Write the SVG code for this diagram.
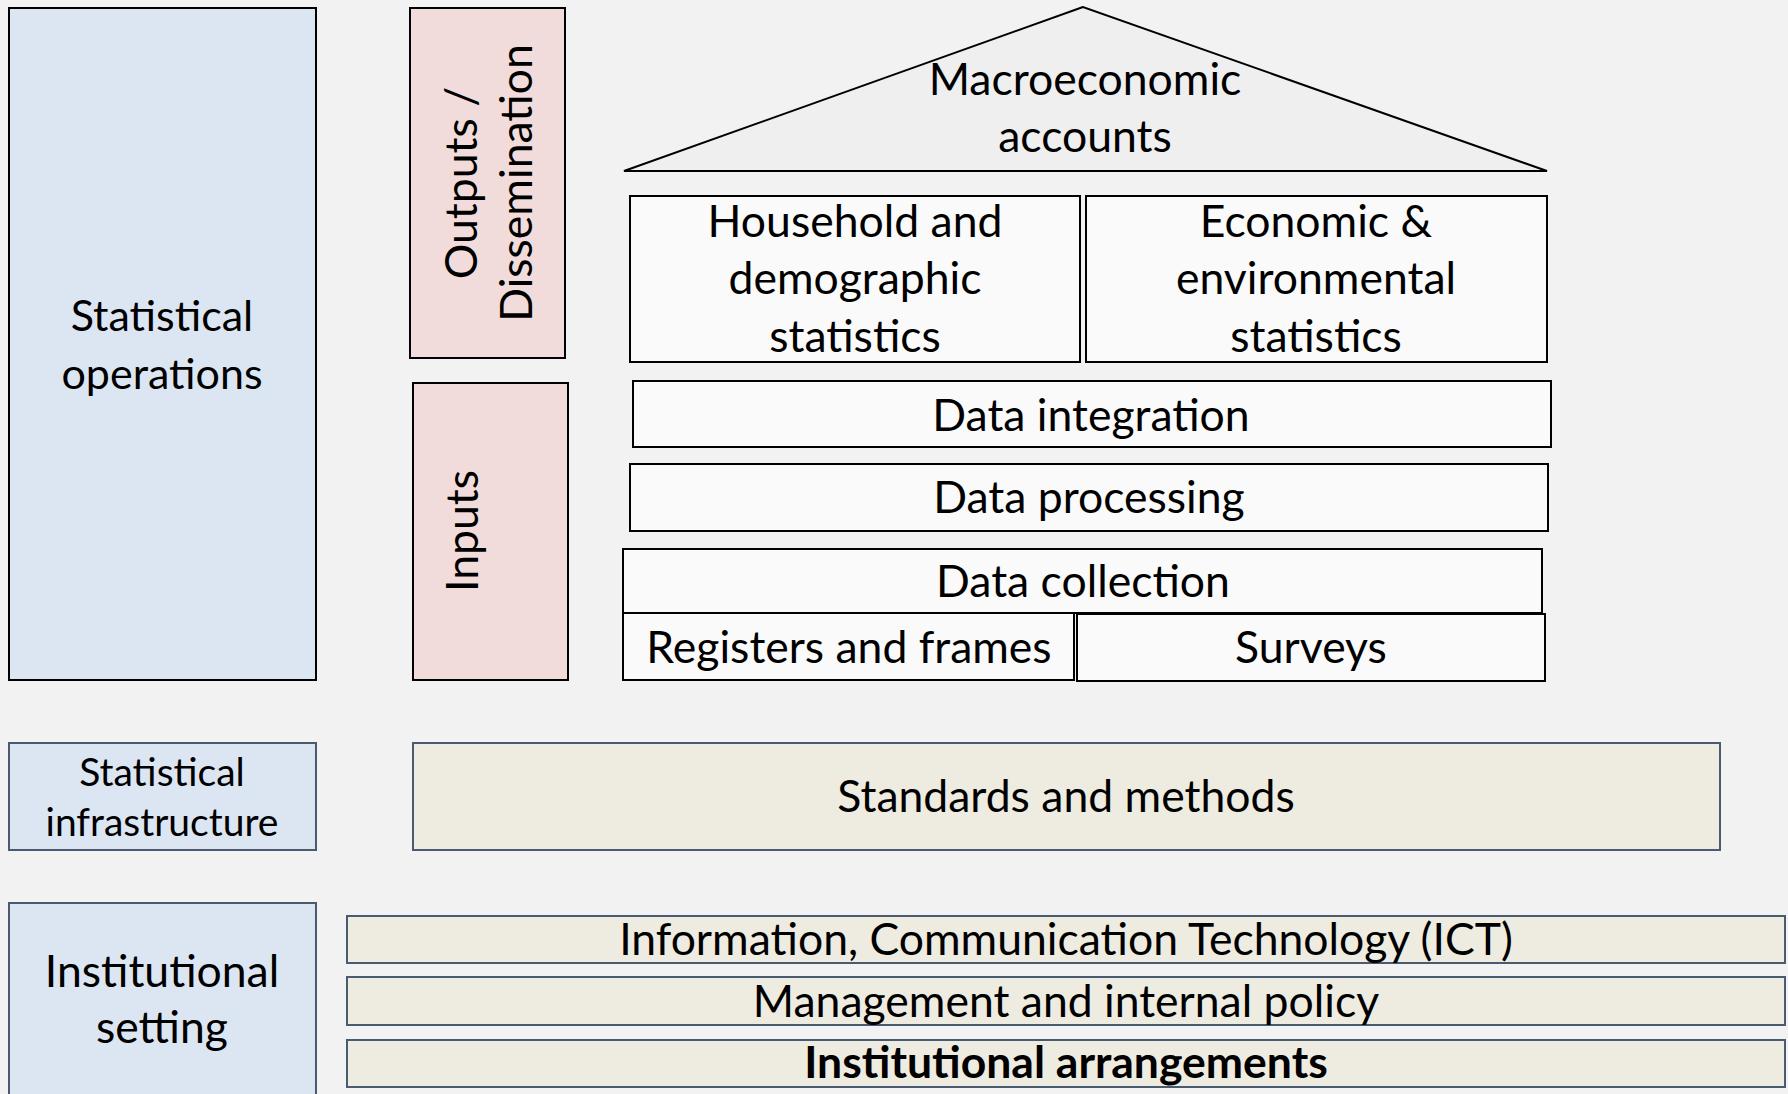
<svg xmlns="http://www.w3.org/2000/svg" width="1788" height="1094" viewBox="0 0 1788 1094">
<style>
text{font-family:Lato,"Open Sans","Liberation Sans",sans-serif;fill:#000;text-anchor:middle}
.t{font-size:44.5px}
.ops{font-size:43px}
.inf{font-size:39px}
.blue{fill:#dce6f2;stroke:#000;stroke-width:2}
.blue2{fill:#dce6f2;stroke:#4a5a70;stroke-width:2}
.pink{fill:#f2dcdb;stroke:#000;stroke-width:2}
.white{fill:#fafafa;stroke:#000;stroke-width:2}
.tan{fill:#eeebe0;stroke:#4a5a70;stroke-width:2}
</style>
<rect width="1788" height="1094" fill="#f2f2f2"/>
<g id="stat-operations"><rect class="blue" x="9" y="8" width="307" height="672"/><text class="ops" x="162" y="331">Statistical</text><text class="ops" x="162" y="389">operations</text></g>
<g id="outputs"><rect class="pink" x="410" y="8" width="155" height="350"/><text class="t" transform="translate(477,183) rotate(-90)">Outputs /</text><text class="t" transform="translate(532,183) rotate(-90)">Dissemination</text></g>
<g id="inputs"><rect class="pink" x="413" y="383" width="155" height="297"/><text class="t" transform="translate(478,531) rotate(-90)">Inputs</text></g>
<g id="macro"><polygon points="1083,7 624,171 1547,171" fill="#efefef" stroke="#000" stroke-width="2"/><text class="t" x="1085" y="95">Macroeconomic</text><text class="t" x="1085" y="152">accounts</text></g>
<g id="household"><rect class="white" x="630" y="196" width="450" height="166"/><text class="t" x="855" y="237">Household and</text><text class="t" x="855" y="294">demographic</text><text class="t" x="855" y="352">statistics</text></g>
<g id="economic"><rect class="white" x="1086" y="196" width="461" height="166"/><text class="t" x="1316" y="237">Economic &amp;</text><text class="t" x="1316" y="294">environmental</text><text class="t" x="1316" y="352">statistics</text></g>
<g id="integration"><rect class="white" x="633" y="381" width="918" height="66"/><text class="t" x="1091" y="431">Data integration</text></g>
<g id="processing"><rect class="white" x="630" y="464" width="918" height="67"/><text class="t" x="1089" y="513">Data processing</text></g>
<g id="collection"><rect class="white" x="623" y="549" width="919" height="64"/><text class="t" x="1083" y="597">Data collection</text></g>
<g id="registers"><rect class="white" x="623" y="613" width="451" height="67"/><text class="t" x="849" y="663">Registers and frames</text></g>
<g id="surveys"><rect class="white" x="1077" y="614" width="468" height="67"/><text class="t" x="1311" y="663">Surveys</text></g>
<g id="stat-infra"><rect class="blue2" x="9" y="743" width="307" height="107"/><text class="inf" x="162" y="786">Statistical</text><text class="inf" x="162" y="836">infrastructure</text></g>
<g id="standards"><rect class="tan" x="413" y="743" width="1307" height="107"/><text class="t" x="1066" y="812">Standards and methods</text></g>
<g id="inst-setting"><rect class="blue2" x="9" y="903" width="307" height="200"/><text class="t" x="162" y="987">Institutional</text><text class="t" x="162" y="1043">setting</text></g>
<g id="ict"><rect class="tan" x="347" y="916" width="1438" height="47"/><text class="t" x="1066" y="955">Information, Communication Technology (ICT)</text></g>
<g id="management"><rect class="tan" x="347" y="977" width="1438" height="48"/><text class="t" x="1066" y="1017">Management and internal policy</text></g>
<g id="arrangements"><rect class="tan" x="347" y="1040" width="1438" height="47"/><text class="t" x="1066" y="1078" style="font-weight:bold">Institutional arrangements</text></g>
<g id="connectors"/>
</svg>
